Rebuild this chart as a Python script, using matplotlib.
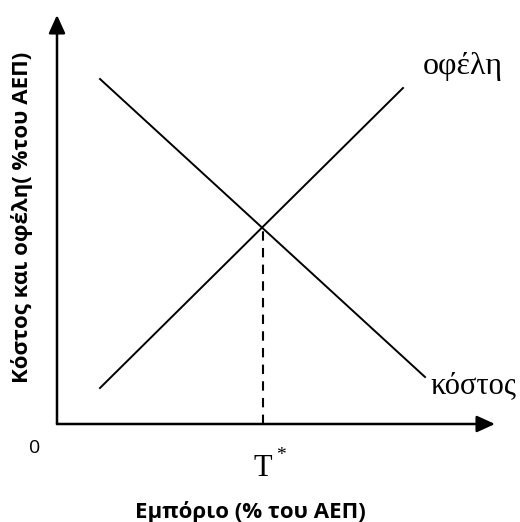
"""Καμπύλες κόστους και οφέλους εμπορίου (διάγραμμα τύπου σχολικού βιβλίου)"""
import matplotlib
matplotlib.use("Agg")
import matplotlib.pyplot as plt

# δεδομένα (αυθαίρετες μονάδες)
cost_x = [4.3, 36.8]
cost_y = [34.5, 4.7]
benefit_x = [4.3, 34.6]
benefit_y = [3.6, 33.6]
t_star = 20.6
eq_y = 19.7
x_max, y_max = 43.8, 40.9

serif = ["Liberation Serif", "DejaVu Serif"]
sans = ["Open Sans", "DejaVu Sans"]

fig = plt.figure(figsize=(5.2, 5.22), dpi=100)
ax = fig.add_axes([0, 0, 1, 1])
ax.set_xlim(-5.7, 46.3)
ax.set_ylim(-9.8, 42.4)
ax.axis("off")

# άξονες με βέλη
arrow = dict(arrowstyle="-|>,head_length=1.1,head_width=0.5", color="black", lw=1.8,
             shrinkA=0, shrinkB=0)
ax.annotate("", xy=(x_max, 0), xytext=(0, 0), arrowprops=arrow)
ax.annotate("", xy=(0, y_max), xytext=(0, 0), arrowprops=arrow)

ax.plot(cost_x, cost_y, color="black", lw=1.4)
ax.plot(benefit_x, benefit_y, color="black", lw=1.4)
ax.plot([t_star, t_star], [0, eq_y], color="black", lw=1.5, ls=(0, (4.5, 3.5)))

ax.text(36.6, 35.0, "οφέλη", family=serif, fontsize=23, va="baseline", ha="left")
ax.text(37.3, 3.1, "κόστος", family=serif, fontsize=22, va="baseline", ha="left")
ax.text(t_star, -5.2, "T", family=serif, fontsize=22, va="baseline", ha="center")
ax.text(t_star + 1.8, -3.1, "*", family=serif, fontsize=14, va="center", ha="center")
ax.text(-2.2, -2.4, "0", family=sans, fontsize=14, va="center", ha="center")

ax.text(-3.5, 20.7, "Κόστος και οφέλη( %του ΑΕΠ)", family=sans, fontsize=16,
        fontweight="bold", rotation=90, va="center", ha="center")
ax.text(19.3, -8.8, "Εμπόριο (% του ΑΕΠ)", family=sans, fontsize=16,
        fontweight="bold", va="center", ha="center")

fig.savefig("out.png", dpi=100)
